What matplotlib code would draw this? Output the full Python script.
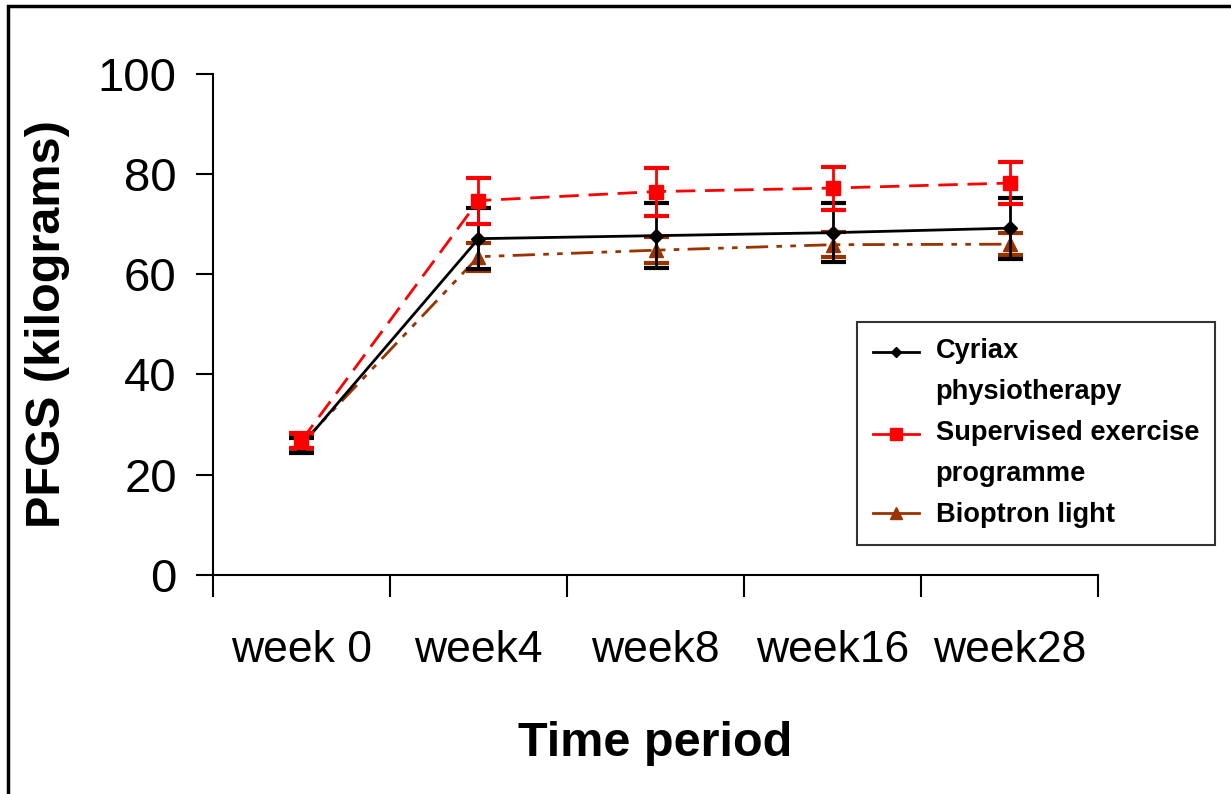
import numpy as np
import matplotlib.pyplot as plt
from matplotlib.patches import Rectangle
from matplotlib.legend_handler import HandlerLine2D

plt.rcParams['font.family'] = ['Liberation Sans', 'DejaVu Sans']

weeks = ["week 0", "week4", "week8", "week16", "week28"]

cyriax = [25.8, 67.1, 67.7, 68.3, 69.2]
cyriax_sd = [1.5, 6.1, 6.5, 5.9, 6.1]

supervised = [26.8, 74.7, 76.5, 77.2, 78.2]
supervised_sd = [1.5, 4.6, 4.8, 4.3, 4.2]

bioptron = [26.2, 63.5, 64.8, 65.9, 66.0]
bioptron_sd = [1.5, 2.8, 2.6, 2.5, 2.2]


class TopLineHandler(HandlerLine2D):
    # puts the legend line next to the first text line of a two-line label
    def __init__(self, frac=0.5, **kw):
        super().__init__(**kw)
        self.frac = frac

    def create_artists(self, legend, orig_handle, xdescent, ydescent, width, height,
                       fontsize, trans):
        arts = super().create_artists(legend, orig_handle, xdescent, ydescent, width,
                                      height, fontsize, trans)
        y = height * self.frac - ydescent
        for a in arts:
            a.set_ydata(np.full_like(np.asarray(a.get_xdata(), dtype=float), y))
        return arts


fig = plt.figure(figsize=(12.31, 7.94), dpi=100)
ax = fig.add_axes([0.173, 0.276, 0.719, 0.631])

x = np.arange(len(weeks))

ax.errorbar(x, bioptron, yerr=bioptron_sd, color="#993300", marker="^", markersize=10,
            linestyle=(0, (8, 3, 2, 3, 2, 3)), linewidth=2, capsize=9, capthick=3,
            elinewidth=2, label="Bioptron light", zorder=2)
ax.errorbar(x, cyriax, yerr=cyriax_sd, color="black", marker="D", markersize=7,
            linestyle="-", linewidth=2, capsize=9, capthick=3, elinewidth=2,
            label="Cyriax\nphysiotherapy", zorder=3)
ax.errorbar(x, supervised, yerr=supervised_sd, color="red", marker="s", markersize=10,
            linestyle=(0, (7, 3.5)), linewidth=2, capsize=9, capthick=3, elinewidth=2,
            label="Supervised exercise\nprogramme", zorder=4)

ax.set_xlim(-0.5, 4.5)
ax.set_ylim(0, 100)
ax.set_yticks([0, 20, 40, 60, 80, 100])
ax.set_xticks(x)
ax.set_xticklabels(weeks)
ax.set_xticks(np.arange(-0.5, 5.0, 1.0), minor=True)
ax.tick_params(axis="x", which="major", length=0, pad=40, labelsize=32)
ax.tick_params(axis="x", which="minor", length=16, width=1.5, direction="out")
ax.tick_params(axis="y", length=12, width=1.5, direction="out", pad=14, labelsize=34)
ax.spines["top"].set_visible(False)
ax.spines["right"].set_visible(False)
ax.spines["left"].set_linewidth(1.5)
ax.spines["bottom"].set_linewidth(1.5)

ax.set_ylabel("PFGS (kilograms)", fontsize=35, fontweight="bold", labelpad=20)
ax.set_xlabel("Time period", fontsize=35, fontweight="bold", labelpad=36)

handles, labels = ax.get_legend_handles_labels()
order = [1, 2, 0]
leg_handles = [handles[i][0] for i in order]
hmap = {leg_handles[0]: TopLineHandler(frac=1.55),
        leg_handles[1]: TopLineHandler(frac=1.55),
        leg_handles[2]: TopLineHandler(frac=0.5)}
leg = ax.legend(leg_handles, [labels[i] for i in order], handler_map=hmap,
                loc="upper left", bbox_to_anchor=(0.696, 0.5945),
                bbox_transform=fig.transFigure, prop={"size": 19.6, "weight": "bold"},
                frameon=True, fancybox=False, edgecolor="black", handlelength=1.7,
                handletextpad=0.6, borderpad=0.6, labelspacing=0.55, markerscale=0.8,
                borderaxespad=0)
leg.get_frame().set_linewidth(1.5)
for h in leg.get_lines():
    h.set_linestyle("-")
for t in leg.get_texts():
    t.set_linespacing(1.75)

fig.patches.append(Rectangle((0.0065, -0.05), 1.2, 1.043, transform=fig.transFigure,
                             fill=False, edgecolor="black", linewidth=2.5))

fig.savefig("out.png", dpi=100)
